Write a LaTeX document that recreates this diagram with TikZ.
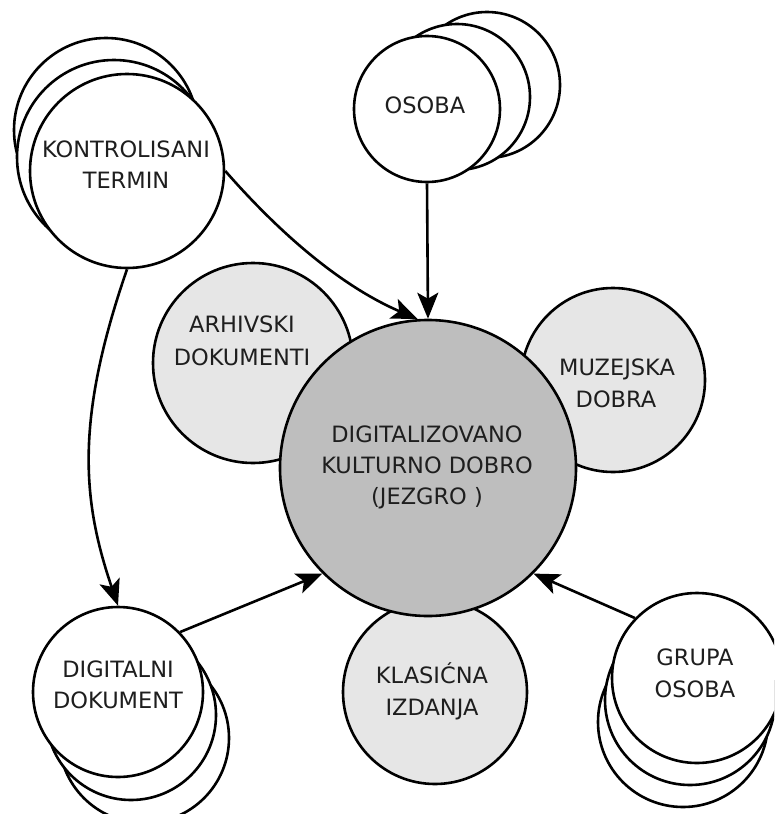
\documentclass[tikz,border=0pt]{standalone}
\usepackage{fontspec}
\setmainfont{DejaVu Sans}
\usetikzlibrary{arrows.meta}
\definecolor{coregray}{RGB}{190,190,190}
\definecolor{satgray}{RGB}{230,230,230}
\definecolor{txtcol}{RGB}{30,30,30}
\begin{document}
\begin{tikzpicture}[x=1pt,y=-1pt,
  ring/.style={circle,draw=black,line width=2.6pt,inner sep=0pt,fill=white},
  sat/.style={ring,fill=satgray},
  core/.style={ring,fill=coregray},
  lbl/.style={anchor=base,inner sep=0pt,text=txtcol,font=\fontsize{22.5}{30}\selectfont},
  conn/.style={line width=2.6pt,-{Stealth[length=26pt,width=21pt,inset=6pt]}}]
\useasboundingbox (0,0) rectangle (774,814);
\clip (0,0) rectangle (774,814);
% satellites
\node[sat,minimum size=200pt] (arh) at (253,363) {};
\node[sat,minimum size=184pt] (muz) at (613,380) {};
\node[sat,minimum size=184pt] (kla) at (435,692) {};
% core
\node[core,minimum size=296pt] (main) at (428,468) {};
% stacked: kontrolisani termin
\node[ring,minimum size=184pt] (ktback) at (106,130) {};
\node[ring,minimum size=194pt] (ktmid) at (114,157) {};
\node[ring,minimum size=194pt] (kt) at (127,171) {};
% stacked: osoba
\node[ring,minimum size=146pt] (osback) at (487,85) {};
\node[ring,minimum size=146pt] (osmid) at (457,97) {};
\node[ring,minimum size=146pt] (osoba) at (427,109) {};
% stacked: digitalni dokument
\node[ring,minimum size=170pt] (digback) at (144,738) {};
\node[ring,minimum size=170pt] (digmid) at (131,715) {};
\node[ring,minimum size=170pt] (dig) at (118,692) {};
% stacked: grupa osoba
\node[ring,minimum size=170pt] (grback) at (683,722) {};
\node[ring,minimum size=170pt] (grmid) at (690,700) {};
\node[ring,minimum size=170pt] (grupa) at (697,678) {};
% connectors
\draw[conn] (osoba.south) -- (main.north);
\draw[conn] (kt.east) .. controls (290,245) and (350,290) .. (main.94);
\draw[conn] (kt.south) .. controls (75,420) and (82,500) .. (dig.north);
\draw[conn] (dig.44) -- (main.225);
\draw[conn] (grupa.136) -- (main.-45);
% labels
\node[lbl] (t1) at (126,157) {KONTROLISANI};
\node[lbl] (t2) at (126,188) {TERMIN};
\node[lbl] (t3) at (425,113) {OSOBA};
\node[lbl] (t4) at (242,332) {ARHIVSKI};
\node[lbl] (t5) at (242,365) {DOKUMENTI};
\node[lbl] (t6) at (617,375) {MUZEJSKA};
\node[lbl] (t7) at (616,407) {DOBRA};
\node[lbl] (t8) at (427,442) {DIGITALIZOVANO};
\node[lbl] (t9) at (427,473) {KULTURNO DOBRO};
\node[lbl] (t10) at (427,504) {(JEZGRO )};
\node[lbl] (t11) at (432,683) {KLASIĆNA};
\node[lbl] (t12) at (432,715) {IZDANJA};
\node[lbl] (t13) at (118,677) {DIGITALNI};
\node[lbl] (t14) at (118,708) {DOKUMENT};
\node[lbl] (t15) at (695,665) {GRUPA};
\node[lbl] (t16) at (695,697) {OSOBA};
\end{tikzpicture}
\end{document}
